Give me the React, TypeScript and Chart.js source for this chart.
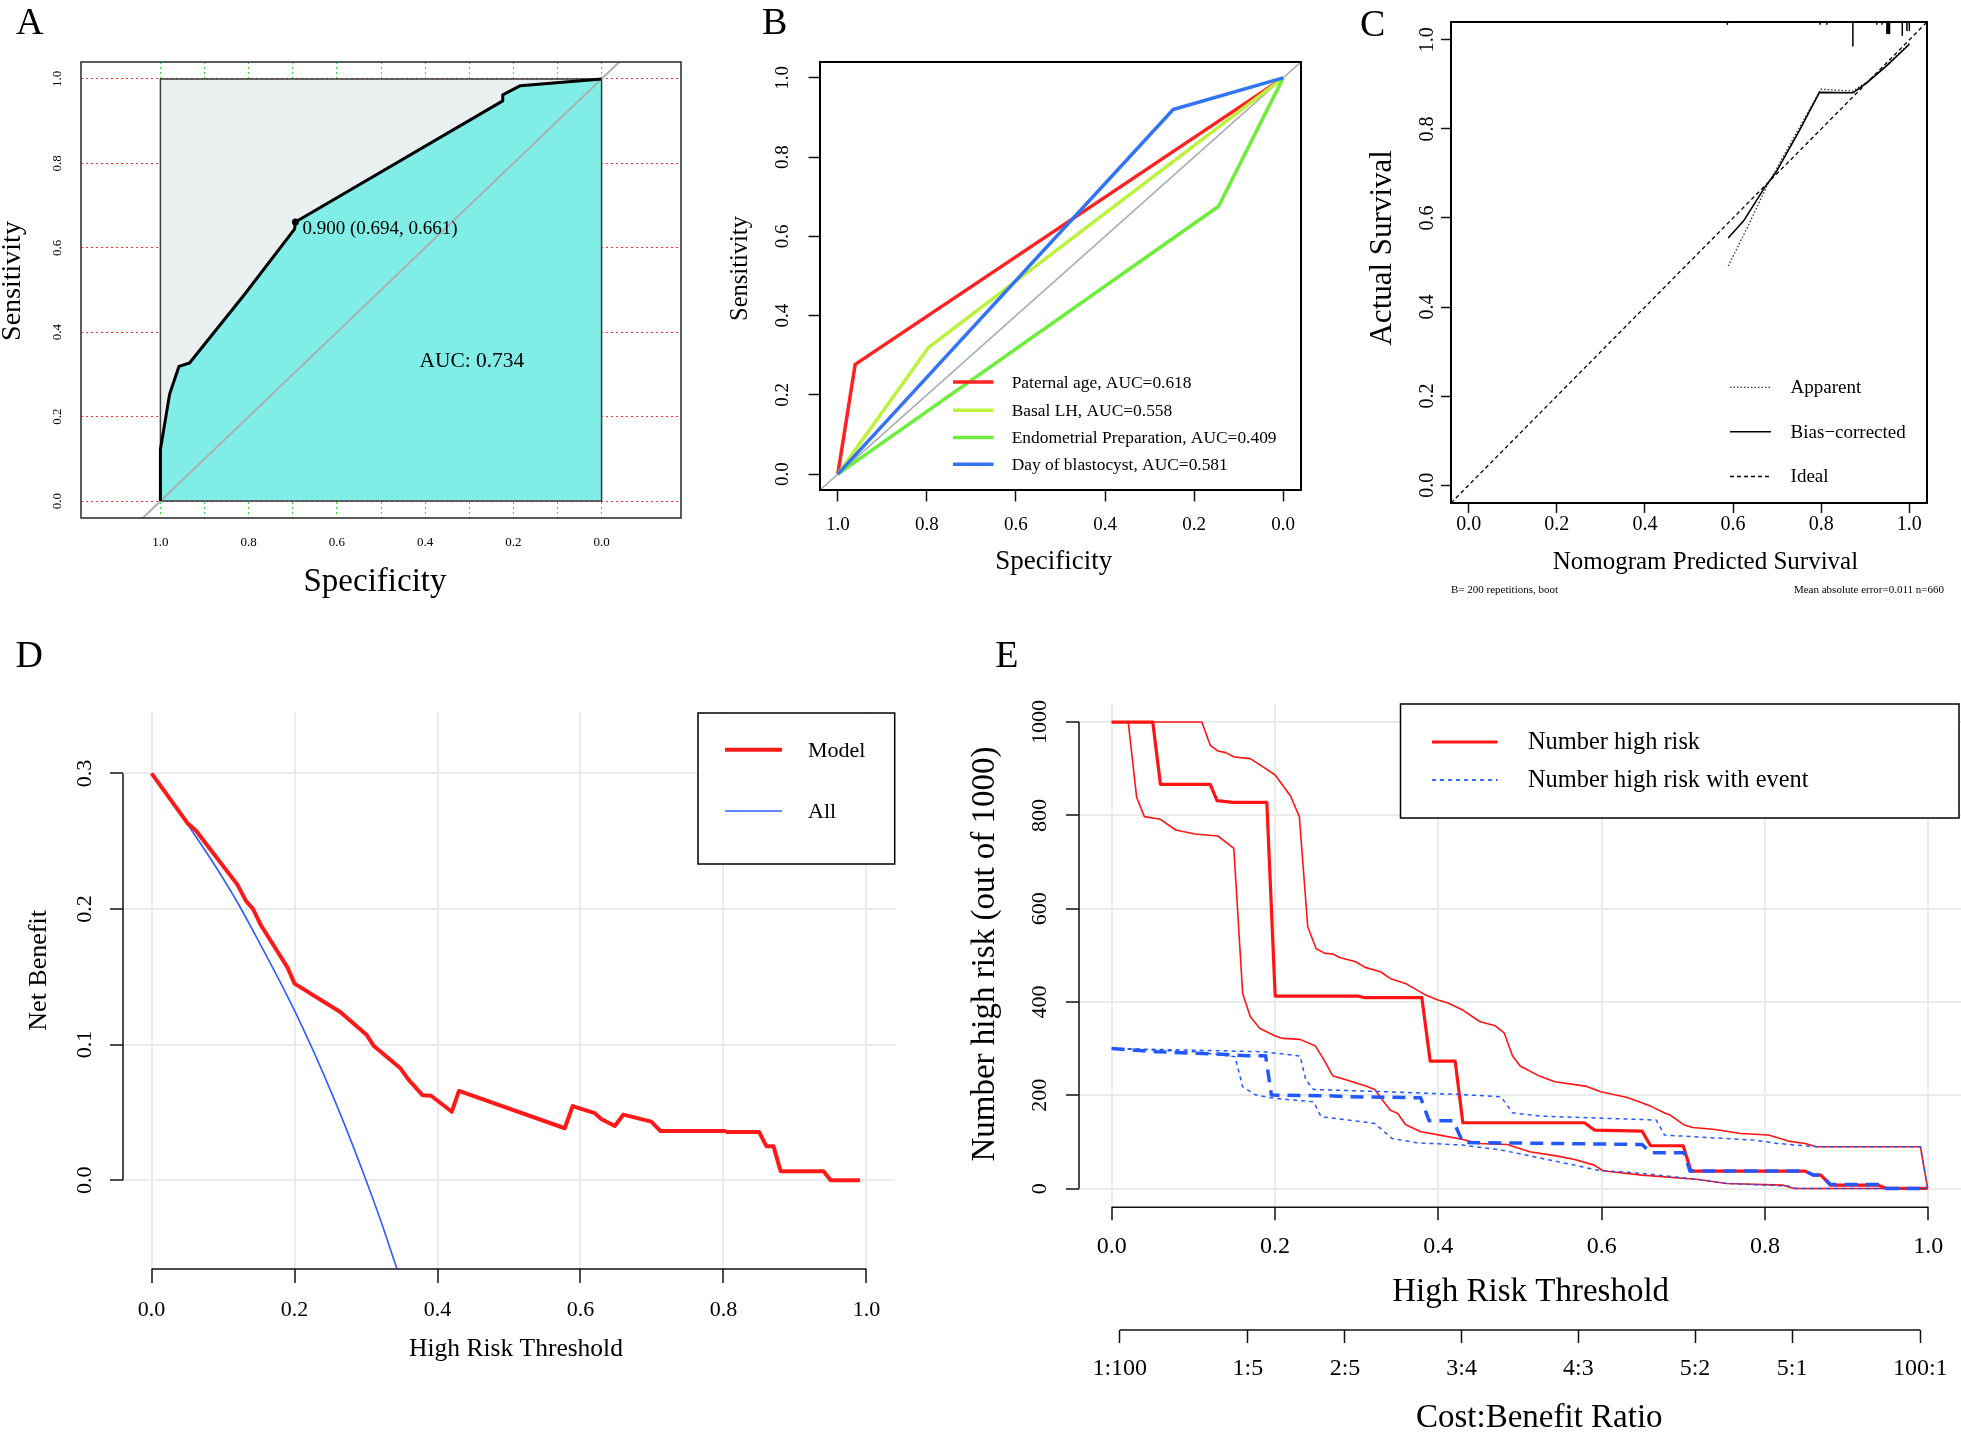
import React, { useEffect, useRef } from "react";
import { Chart, registerables } from "chart.js";

Chart.register(...registerables);

const SERIF = '"Liberation Serif", "Times New Roman", Times, serif';

// ---------------- Panel A : ROC of the nomogram ----------------
const rocASpecificity = [1.0, 1.0, 0.979, 0.958, 0.934, 0.809, 0.696, 0.694, 0.224, 0.224, 0.184, 0.0];
const rocASensitivity = [0.0, 0.122, 0.254, 0.319, 0.327, 0.49, 0.644, 0.661, 0.948, 0.962, 0.984, 1.0];
const rocAThreshold = { spec: 0.694, sens: 0.661, text: "0.900 (0.694, 0.661)" };
const rocAAucText = "AUC: 0.734";
const rocAAucPos = { spec: 0.294, sens: 0.334 };
const rocASquareX = [1, 1, 0, 0, 1];
const rocASquareY = [0, 1, 1, 0, 0];
const rocADiagX = [1.18, -0.18];
const rocADiagY = [-0.18, 1.18];

// ---------------- Panel B : single-variable ROC curves ----------------
const rocBNames = [
  "Paternal age, AUC=0.618",
  "Basal LH, AUC=0.558",
  "Endometrial Preparation, AUC=0.409",
  "Day of blastocyst, AUC=0.581",
];
const rocBColors = ["#FF2222", "#BDF23C", "#6CEE3A", "#3374F5"];
const paternalSpec = [1, 0.961, 0];
const paternalSens = [0, 0.277, 1];
const basalLHSpec = [1, 0.796, 0];
const basalLHSens = [0, 0.32, 1];
const endometrialSpec = [1, 0.145, 0];
const endometrialSens = [0, 0.676, 1];
const blastocystSpec = [1, 0.247, 0];
const blastocystSens = [0, 0.92, 1];
const rocBDiagX = [1.04, -0.04];
const rocBDiagY = [-0.04, 1.04];

// ---------------- Panel C : calibration ----------------
const calBiasX = [0.589, 0.625, 0.674, 0.697, 0.751, 0.796, 0.872, 0.904, 0.949, 1.0];
const calBiasY = [0.555, 0.595, 0.672, 0.702, 0.797, 0.882, 0.881, 0.904, 0.942, 0.99];
const calApparentX = [0.589, 0.634, 0.679, 0.742, 0.799, 0.872, 0.904, 0.949, 1.0];
const calApparentY = [0.492, 0.582, 0.676, 0.788, 0.889, 0.885, 0.906, 0.944, 0.992];
const calIdealX = [-0.04, 1.04];
const calIdealY = [-0.04, 1.04];
const calRugX = [0.587, 0.7975, 0.8127, 0.8718, 0.926, 0.9377, 0.949, 0.952, 0.955, 0.9839, 0.9945, 1.0];
const calRugEnd = [1.035, 1.035, 1.035, 0.986, 1.035, 1.035, 1.014, 1.014, 1.014, 1.01, 1.021, 1.021];
const calLegend = ["Apparent", "Bias\u2212corrected", "Ideal"];
const calFootLeft = "B= 200 repetitions, boot";
const calFootRight = "Mean absolute error=0.011 n=660";

// ---------------- Panel D : decision curve ----------------
const dcaModelX = [0, 0.05, 0.0625, 0.12, 0.132, 0.142, 0.153, 0.19, 0.2, 0.264, 0.301, 0.311, 0.348, 0.36, 0.379,
  0.391, 0.42, 0.43, 0.578, 0.589, 0.62, 0.629, 0.648, 0.66, 0.699, 0.712, 0.802, 0.806, 0.85, 0.86, 0.87, 0.88,
  0.94, 0.95, 0.991];
const dcaModelY = [0.3, 0.2635, 0.2576, 0.218, 0.206, 0.2, 0.188, 0.157, 0.145, 0.124, 0.107, 0.0989, 0.0825, 0.0738,
  0.0627, 0.0623, 0.0505, 0.0658, 0.0383, 0.0546, 0.0494, 0.0452, 0.04, 0.0484, 0.0432, 0.0362, 0.0362, 0.0355,
  0.0355, 0.0251, 0.0251, 0.0066, 0.0066, 0, 0];
const dcaAllX = [0, 0.03, 0.06, 0.09, 0.12, 0.15, 0.18, 0.21, 0.24, 0.27, 0.3, 0.32, 0.343];
const dcaAllY = [0.3, 0.278, 0.255, 0.231, 0.205, 0.176, 0.146, 0.114, 0.079, 0.041, 0.0, -0.029, -0.065];
const dcaLegend = ["Model", "All"];

// ---------------- Panel E : clinical impact curve ----------------
const cicRedMainX = [0, 0.0503, 0.0597, 0.1207, 0.129, 0.1487, 0.19, 0.2002, 0.301, 0.3104, 0.3798, 0.39, 0.4206,
  0.43, 0.579, 0.591, 0.6495, 0.6599, 0.6998, 0.7094, 0.8492, 0.8595, 0.8685, 0.8801, 0.9387, 0.949, 0.9992];
const cicRedMainY = [1000, 1000, 866.6, 866.6, 831.6, 828, 828, 412.8, 412.8, 409.2, 409.2, 273.4, 273.4, 141.2,
  141.2, 125.5, 123.3, 91.9, 91.9, 37.6, 37.6, 29, 29, 7.5, 7.5, 0.4, 0.4];
const cicRedUpX = [0, 0.1104, 0.1207, 0.1301, 0.1395, 0.1501, 0.1698, 0.1862, 0.2002, 0.219, 0.2298, 0.2401, 0.2504,
  0.2612, 0.2706, 0.28, 0.2988, 0.3104, 0.3292, 0.341, 0.3597, 0.3831, 0.3995, 0.4112, 0.43, 0.4511, 0.4698, 0.4806,
  0.4909, 0.5003, 0.5238, 0.5425, 0.58, 0.5988, 0.6316, 0.6597, 0.6785, 0.684, 0.7012, 0.7115, 0.739, 0.77, 0.8044,
  0.8285, 0.8492, 0.8629, 0.9903, 0.9992];
const cicRedUpY = [1000, 1000, 950.2, 938, 934.5, 925.2, 921.6, 903, 886.6, 841.6, 797.3, 561.4, 514.2, 504.2, 502.8,
  495, 486.4, 474.2, 464.9, 450.6, 439.9, 416.3, 404.2, 398.5, 382.7, 357.7, 349.1, 334.1, 284.1, 262.7, 241.2,
  229.1, 219.8, 207.6, 195.5, 176.9, 161.2, 157.6, 136.2, 131.2, 126.9, 118.3, 114.8, 101.9, 96.9, 89.7, 89.7, 0.4];
const cicRedLowX = [0, 0.0203, 0.0306, 0.04, 0.0597, 0.0785, 0.1018, 0.1301, 0.1496, 0.1604, 0.1698, 0.1815, 0.2002,
  0.2097, 0.2307, 0.2495, 0.2589, 0.2706, 0.2917, 0.3104, 0.3221, 0.3315, 0.341, 0.3503, 0.3597, 0.3785, 0.402,
  0.43, 0.4487, 0.4844, 0.5119, 0.5463, 0.567, 0.5911, 0.6014, 0.6495, 0.7184, 0.7528, 0.8217, 0.8354, 0.9992];
const cicRedLowY = [1000, 1000, 838.7, 797.3, 791.6, 768.7, 760.1, 755.8, 729.4, 418.5, 368.5, 343.4, 327, 322,
  319.9, 305.6, 279.1, 242, 230.5, 220.5, 212.6, 189.8, 168.3, 161.2, 137.6, 121.9, 114.7, 105.5, 96.9, 94.7, 79,
  69.7, 62.6, 50.4, 38.3, 29, 19.7, 11.1, 7.5, 0.4, 0.4];
const cicBlueMainX = [0, 0.055, 0.13, 0.1675, 0.1885, 0.1956, 0.266, 0.2894, 0.3784, 0.3887, 0.4183, 0.43, 0.6495,
  0.6599, 0.7012, 0.708, 0.8492, 0.8595, 0.8685, 0.8801, 0.9387, 0.949, 0.9992];
const cicBlueMainY = [300.5, 293.4, 288.4, 284.8, 284.8, 200.5, 199.1, 196.9, 194.8, 145.5, 145.5, 99, 94.7, 76.9,
  76.9, 37.6, 37.6, 29, 29, 9, 9, 0.4, 0.4];
const cicBlueUpX = [0, 0.055, 0.1863, 0.2307, 0.2378, 0.2472, 0.3362, 0.4253, 0.4768, 0.4909, 0.5238, 0.6668, 0.677,
  0.7872, 0.8147, 0.8629, 0.9903, 0.9992];
const cicBlueUpY = [300.5, 298.4, 293.4, 284.1, 232.7, 212.6, 207.6, 201.9, 196.9, 162.6, 155.5, 147, 114.7, 104,
  96.9, 89.7, 89.7, 0.4];
const cicBlueLowX = [0, 0.1018, 0.1511, 0.1604, 0.1768, 0.2002, 0.2472, 0.2565, 0.2894, 0.3221, 0.3432, 0.3737,
  0.43, 0.4768, 0.4981, 0.5325, 0.567, 0.5945, 0.6495, 0.7184, 0.7528, 0.8285, 0.8389, 0.9992];
const cicBlueLowY = [300.5, 293.4, 282.7, 218.4, 200.5, 193.4, 186.2, 154, 146.9, 139.8, 107.6, 98.3, 93.3, 82.6,
  75.4, 62.6, 50.4, 39.7, 32.6, 19.7, 11.1, 5.4, 0.4, 0.4];
const cicLegend = ["Number high risk", "Number high risk with event"];
const cicYTicks = [0, 200, 400, 600, 800, 1000];
const costBenefitLabels = ["1:100", "1:5", "2:5", "3:4", "4:3", "5:2", "5:1", "100:1"];
const costBenefitThresholds = [0.0099, 0.1667, 0.2857, 0.4286, 0.5714, 0.7143, 0.8333, 0.9901];

// shared tick values
const unitTicks = [0, 0.2, 0.4, 0.6, 0.8, 1.0];
const tenthTicks = [0, 0.1, 0.2, 0.3, 0.4, 0.5, 0.6, 0.7, 0.8, 0.9, 1.0];
const dcaYTicks = [0, 0.1, 0.2, 0.3];

// ---------------- helpers ----------------
type Rect = { x: number; y: number; w: number; h: number };
type Area = { l: number; t: number; r: number; b: number };

const pts = (xs: number[], ys: number[]) => xs.map((x, i) => ({ x, y: ys[i] }));

// axis boxes take the whole margin below / left of the plot region, so labels are never clipped
function padFor(R: Rect, A: Area, xSize: number, ySize: number) {
  return {
    left: A.l - R.x - ySize,
    top: A.t - R.y,
    right: R.x + R.w - A.r,
    bottom: R.y + R.h - A.b - xSize,
  };
}

function baseOptions(padding: any) {
  return {
    responsive: false,
    maintainAspectRatio: false,
    animation: false,
    devicePixelRatio: 1,
    events: [],
    layout: { padding },
    plugins: { legend: { display: false }, tooltip: { enabled: false }, title: { display: false } },
  };
}

type AxisSpec = {
  pos: "bottom" | "left";
  min: number;
  max: number;
  reverse?: boolean;
  ticks: number[];
  label: (v: number, i: number) => string;
  font: number;
  pad: number;
  rotate?: boolean;
  onArea?: boolean;
  gridColor?: string;
  gridWidth?: number;
  gridDash?: number[];
  tickLen?: number;
  size: number;
  weight?: number;
};

function makeScale(a: AxisSpec) {
  const tl = a.tickLen ?? 0;
  return {
    type: "linear",
    position: a.pos,
    min: a.min,
    max: a.max,
    reverse: !!a.reverse,
    bounds: "data",
    weight: a.weight ?? 0,
    afterBuildTicks: (s: any) => {
      s.ticks = a.ticks.map((v) => ({ value: v }));
    },
    afterFit: (s: any) => {
      if (a.pos === "bottom") s.height = a.size;
      else s.width = a.size;
      s.paddingLeft = 0;
      s.paddingRight = 0;
      s.paddingTop = 0;
      s.paddingBottom = 0;
    },
    ticks: {
      autoSkip: false,
      padding: a.pad,
      color: "#000",
      font: { family: SERIF, size: a.font },
      minRotation: a.rotate ? 90 : 0,
      maxRotation: a.rotate ? 90 : 0,
      crossAlign: a.rotate ? "center" : "near",
      callback: (v: any, i: number) => a.label(Number(v), i),
    },
    grid: {
      display: true,
      drawOnChartArea: !!a.onArea,
      color: a.gridColor ?? "rgba(0,0,0,0)",
      lineWidth: a.gridWidth ?? 1,
      drawTicks: tl > 0,
      tickLength: tl,
      tickColor: "#111",
      tickWidth: 1.5,
      tickBorderDash: [],
    },
    border: { display: false, dash: a.gridDash ?? [] },
  };
}

function lineDs(data: any[], color: string, width: number, extra: any = {}) {
  return {
    data,
    borderColor: color,
    backgroundColor: color,
    borderWidth: width,
    pointRadius: 0,
    fill: false,
    tension: 0,
    borderJoinStyle: "round",
    borderCapStyle: "butt",
    ...extra,
  };
}

function T(
  ctx: CanvasRenderingContext2D,
  s: string,
  x: number,
  y: number,
  size: number,
  align: CanvasTextAlign = "center",
  rot = 0
) {
  ctx.save();
  ctx.translate(x, y);
  if (rot) ctx.rotate(rot);
  ctx.font = `${size}px ${SERIF}`;
  ctx.fillStyle = "#000";
  ctx.textAlign = align;
  ctx.textBaseline = "middle";
  ctx.fillText(s, 0, 0);
  ctx.restore();
}

function L(
  ctx: CanvasRenderingContext2D,
  x1: number,
  y1: number,
  x2: number,
  y2: number,
  color: string,
  w: number,
  dash: number[] = []
) {
  ctx.save();
  ctx.beginPath();
  ctx.setLineDash(dash);
  ctx.strokeStyle = color;
  ctx.lineWidth = w;
  ctx.moveTo(x1, y1);
  ctx.lineTo(x2, y2);
  ctx.stroke();
  ctx.restore();
}

function box(ctx: CanvasRenderingContext2D, l: number, t: number, r: number, b: number, w: number, color = "#000", fill?: string) {
  ctx.save();
  if (fill) {
    ctx.fillStyle = fill;
    ctx.fillRect(l, t, r - l, b - t);
  }
  ctx.strokeStyle = color;
  ctx.lineWidth = w;
  ctx.strokeRect(l, t, r - l, b - t);
  ctx.restore();
}

type MapFns = {
  x: (v: number, id?: string) => number;
  y: (v: number) => number;
  area: Area;
  top: (id: string) => number;
};

function decor(R: Rect, draw: (ctx: CanvasRenderingContext2D, m: MapFns) => void) {
  return {
    id: "decor",
    afterDraw(chart: any) {
      const ctx: CanvasRenderingContext2D = chart.ctx;
      const ca = chart.chartArea;
      const m: MapFns = {
        x: (v: number, id = "x") => chart.scales[id].getPixelForValue(v) + R.x,
        y: (v: number) => chart.scales.y.getPixelForValue(v) + R.y,
        area: { l: ca.left + R.x, t: ca.top + R.y, r: ca.right + R.x, b: ca.bottom + R.y },
        top: (id: string) => chart.scales[id].top + R.y,
      };
      ctx.save();
      ctx.translate(-R.x, -R.y);
      draw(ctx, m);
      ctx.restore();
    },
  };
}

const HALF_PI = Math.PI / 2;

// ---------------- Panel configs ----------------
const RA: Rect = { x: 0, y: 0, w: 700, h: 620 };
const AA: Area = { l: 81, t: 62, r: 681, b: 518 };
const A_X = 102;
const A_Y = 81;

function configA() {
  const roc = pts(rocASpecificity, rocASensitivity);
  return {
    type: "line",
    data: {
      datasets: [
        {
          ...lineDs([{ x: rocAThreshold.spec, y: rocAThreshold.sens }], "#000", 1),
          showLine: false,
          pointRadius: 3.5,
          pointBackgroundColor: "#000",
          pointBorderWidth: 0,
          order: 0,
        },
        { ...lineDs(roc, "#000", 3), order: 1 },
        { ...lineDs(pts(rocADiagX, rocADiagY), "#A9B0B3", 2), order: 2 },
        { ...lineDs(pts(rocASquareX, rocASquareY), "#3A3A3A", 1.5), order: 2 },
        { ...lineDs(roc, "rgba(0,0,0,0)", 1), fill: "origin", backgroundColor: "#80EDE7", order: 3 },
        {
          ...lineDs(pts([1, 0], [1, 1]), "rgba(0,0,0,0)", 1),
          fill: "origin",
          backgroundColor: "#E9F0EF",
          order: 4,
        },
      ],
    },
    options: {
      ...baseOptions(padFor(RA, AA, A_X, A_Y)),
      scales: {
        x: makeScale({
          pos: "bottom", min: -0.18, max: 1.18, reverse: true, ticks: tenthTicks,
          label: (v) => (Math.round(v * 10) % 2 === 0 ? v.toFixed(1) : ""),
          font: 13, pad: 17, onArea: true, gridColor: "#3BD83B", gridDash: [2, 3], gridWidth: 1, size: A_X,
        }),
        y: makeScale({
          pos: "left", min: -0.04, max: 1.04, ticks: unitTicks, label: (v) => v.toFixed(1),
          font: 13, pad: 15, rotate: true, onArea: true, gridColor: "#FF3030", gridDash: [2, 3], gridWidth: 1,
          size: A_Y,
        }),
      },
    },
    plugins: [
      decor(RA, (ctx, m) => {
        const a = m.area;
        box(ctx, a.l, a.t, a.r, a.b, 1.6, "#333");
        T(ctx, "A", 29.6, 24.5, 38);
        T(ctx, "Sensitivity", 12.4, 281, 28, "center", -HALF_PI);
        T(ctx, "Specificity", 375, 582.5, 33);
        const px = m.x(rocAThreshold.spec);
        const py = m.y(rocAThreshold.sens);
        T(ctx, rocAThreshold.text, px + 7, py + 7, 19, "left");
        T(ctx, rocAAucText, m.x(rocAAucPos.spec), m.y(rocAAucPos.sens) + 1, 21.4);
      }),
    ],
  };
}

const RB: Rect = { x: 700, y: 0, w: 640, h: 620 };
const AB: Area = { l: 820, t: 62, r: 1301, b: 490 };
const B_X = 130;
const B_Y = 120;

function configB() {
  const series = [
    pts(paternalSpec, paternalSens),
    pts(basalLHSpec, basalLHSens),
    pts(endometrialSpec, endometrialSens),
    pts(blastocystSpec, blastocystSens),
  ];
  return {
    type: "line",
    data: {
      datasets: [
        ...series.map((d, i) => ({ ...lineDs(d, rocBColors[i], 3.5), order: 3 - i })),
        { ...lineDs(pts(rocBDiagX, rocBDiagY), "#A3ABB0", 1.6), order: 5 },
      ],
    },
    options: {
      ...baseOptions(padFor(RB, AB, B_X, B_Y)),
      scales: {
        x: makeScale({
          pos: "bottom", min: -0.04, max: 1.04, reverse: true, ticks: unitTicks,
          label: (v) => v.toFixed(1), font: 19, pad: 12, tickLen: 11.5, size: B_X,
        }),
        y: makeScale({
          pos: "left", min: -0.04, max: 1.04, ticks: unitTicks, label: (v) => v.toFixed(1),
          font: 19, pad: 13.6, rotate: true, tickLen: 11.5, size: B_Y,
        }),
      },
    },
    plugins: [
      decor(RB, (ctx, m) => {
        const a = m.area;
        box(ctx, a.l, a.t, a.r, a.b, 2, "#000");
        T(ctx, "B", 774.6, 24.5, 38);
        T(ctx, "Sensitivity", 741, 268.5, 24.5, "center", -HALF_PI);
        T(ctx, "Specificity", 1053.7, 562, 27);
        const rows = [382, 410.3, 437.4, 464.2];
        rows.forEach((y, i) => {
          L(ctx, 953, y, 993.5, y, rocBColors[i], 3.5);
          T(ctx, rocBNames[i], 1011.7, y + 1, 17.4, "left");
        });
      }),
    ],
  };
}

const RC: Rect = { x: 1340, y: 0, w: 621, h: 620 };
const AC: Area = { l: 1451, t: 22, r: 1927, b: 503 };
const C_X = 117;
const C_Y = 111;

function configC() {
  const rug: any[] = [];
  calRugX.forEach((x, i) => {
    rug.push({ x, y: 1.04 }, { x, y: calRugEnd[i] }, { x, y: null });
  });
  return {
    type: "line",
    data: {
      datasets: [
        { ...lineDs(pts(calBiasX, calBiasY), "#000", 1.6), order: 0 },
        { ...lineDs(pts(calApparentX, calApparentY), "#333", 1.3, { borderDash: [1.5, 2] }), order: 1 },
        { ...lineDs(pts(calIdealX, calIdealY), "#000", 1.3, { borderDash: [4, 3] }), order: 2 },
        { ...lineDs(rug, "#000", 1.5, { spanGaps: false }), order: 3 },
      ],
    },
    options: {
      ...baseOptions(padFor(RC, AC, C_X, C_Y)),
      scales: {
        x: makeScale({
          pos: "bottom", min: -0.04, max: 1.04, ticks: unitTicks, label: (v) => v.toFixed(1),
          font: 20, pad: 0, tickLen: 10, size: C_X,
        }),
        y: makeScale({
          pos: "left", min: -0.04, max: 1.04, ticks: unitTicks, label: (v) => v.toFixed(1),
          font: 20, pad: 0.6, rotate: true, tickLen: 10, size: C_Y,
        }),
      },
    },
    plugins: [
      decor(RC, (ctx, m) => {
        const a = m.area;
        box(ctx, a.l, a.t, a.r, a.b, 2, "#000");
        T(ctx, "C", 1372.6, 26, 38);
        T(ctx, "Actual Survival", 1383.3, 247.8, 31, "center", -HALF_PI);
        T(ctx, "Nomogram Predicted Survival", 1705.4, 562.8, 25);
        const rows = [387.3, 431.7, 476.5];
        L(ctx, 1730, rows[0], 1771, rows[0], "#333", 1.3, [1.5, 2]);
        L(ctx, 1730, rows[1], 1771, rows[1], "#000", 1.6);
        L(ctx, 1730, rows[2], 1771, rows[2], "#000", 1.3, [4, 3]);
        rows.forEach((y, i) => T(ctx, calLegend[i], 1790.6, y + 1, 19, "left"));
        T(ctx, calFootLeft, 1451, 590, 11, "left");
        T(ctx, calFootRight, 1944, 590, 11, "right");
      }),
    ],
  };
}

const RD: Rect = { x: 0, y: 630, w: 960, h: 807 };
const AD: Area = { l: 123, t: 712, r: 895, b: 1269 };
const D_X = 168;
const D_Y = 123;

function configD() {
  return {
    type: "line",
    data: {
      datasets: [
        { ...lineDs(pts(dcaModelX, dcaModelY), "#FF1A1A", 4), order: 0 },
        { ...lineDs(pts(dcaAllX, dcaAllY), "#2E5BFF", 1.6, { cubicInterpolationMode: "monotone" }), order: 1 },
      ],
    },
    options: {
      ...baseOptions(padFor(RD, AD, D_X, D_Y)),
      scales: {
        x: makeScale({
          pos: "bottom", min: -0.04, max: 1.04, ticks: unitTicks, label: (v) => v.toFixed(1),
          font: 22, pad: 13.7, tickLen: 14, onArea: true, gridColor: "#E9ECEC", gridWidth: 2, size: D_X,
        }),
        y: makeScale({
          pos: "left", min: -0.0655, max: 0.3453, ticks: dcaYTicks, label: (v) => v.toFixed(1),
          font: 22, pad: 11.25, rotate: true, tickLen: 13, onArea: true, gridColor: "#E9ECEC", gridWidth: 2,
          size: D_Y,
        }),
      },
    },
    plugins: [
      decor(RD, (ctx, m) => {
        const a = m.area;
        L(ctx, a.l, m.y(0), a.l, m.y(0.3), "#111", 1.5);
        L(ctx, m.x(0), a.b, m.x(1), a.b, "#111", 1.5);
        box(ctx, 698, 713, 894.7, 864, 1.5, "#000", "#fff");
        L(ctx, 725, 749.8, 782, 749.8, "#FF1A1A", 4);
        L(ctx, 725, 811, 782, 811, "#2E5BFF", 1.6);
        T(ctx, dcaLegend[0], 808, 751, 22, "left");
        T(ctx, dcaLegend[1], 808, 812, 22, "left");
        T(ctx, "D", 29.3, 657, 38);
        T(ctx, "Net Benefit", 39, 970.4, 26, "center", -HALF_PI);
        T(ctx, "High Risk Threshold", 516, 1348.8, 25.5);
      }),
    ],
  };
}

const RE: Rect = { x: 960, y: 630, w: 1001, h: 807 };
const AE: Area = { l: 1079, t: 703.4, r: 1961, b: 1207.3 };
const E_X = 122.7;
const E_X2 = 107;
const E_Y = 119;

function configE() {
  return {
    type: "line",
    data: {
      datasets: [
        { ...lineDs(pts(cicBlueMainX, cicBlueMainY), "#2458FF", 3.5, { borderDash: [13, 8] }), order: 0 },
        { ...lineDs(pts(cicBlueUpX, cicBlueUpY), "#2458FF", 1.5, { borderDash: [4, 4] }), order: 1 },
        { ...lineDs(pts(cicBlueLowX, cicBlueLowY), "#2458FF", 1.5, { borderDash: [4, 4] }), order: 1 },
        { ...lineDs(pts(cicRedMainX, cicRedMainY), "#FF1414", 3.2), order: 2 },
        { ...lineDs(pts(cicRedUpX, cicRedUpY), "#FF1414", 1.6), order: 3 },
        { ...lineDs(pts(cicRedLowX, cicRedLowY), "#FF1414", 1.6), order: 3 },
      ],
    },
    options: {
      ...baseOptions(padFor(RE, AE, E_X + E_X2, E_Y)),
      scales: {
        x: makeScale({
          pos: "bottom", min: -0.04, max: 1.04, ticks: unitTicks, label: (v) => v.toFixed(1),
          font: 24, pad: 12, tickLen: 13, onArea: true, gridColor: "#E9ECEC", gridWidth: 2,
          size: E_X, weight: 0,
        }),
        x2: makeScale({
          pos: "bottom", min: -0.04, max: 1.04, ticks: costBenefitThresholds,
          label: (_v, i) => costBenefitLabels[i] ?? "", font: 24, pad: 11.6, tickLen: 13, size: E_X2, weight: 1,
        }),
        y: makeScale({
          pos: "left", min: -40, max: 1040, ticks: cicYTicks, label: (v) => String(Math.round(v)),
          font: 22, pad: 4.2, rotate: true, tickLen: 13, onArea: true, gridColor: "#E9ECEC", gridWidth: 2,
          size: E_Y,
        }),
      },
    },
    plugins: [
      decor(RE, (ctx, m) => {
        const a = m.area;
        L(ctx, a.l, m.y(0), a.l, m.y(1000), "#111", 1.5);
        L(ctx, m.x(0), a.b, m.x(1), a.b, "#111", 1.5);
        const t2 = m.top("x2");
        L(
          ctx,
          m.x(costBenefitThresholds[0], "x2"),
          t2,
          m.x(costBenefitThresholds[costBenefitThresholds.length - 1], "x2"),
          t2,
          "#111",
          1.5
        );
        box(ctx, 1400.5, 704, 1959, 818, 1.5, "#000", "#fff");
        L(ctx, 1432, 742, 1497.5, 742, "#FF1414", 3.2);
        L(ctx, 1432, 780, 1497.5, 780, "#2458FF", 1.8, [4, 4]);
        T(ctx, cicLegend[0], 1528, 743, 24.4, "left");
        T(ctx, cicLegend[1], 1528, 781, 24.4, "left");
        T(ctx, "E", 1006.9, 657, 38);
        T(ctx, "Number high risk (out of 1000)", 985, 954, 33, "center", -HALF_PI);
        T(ctx, "High Risk Threshold", 1530.7, 1292, 33);
        T(ctx, "Cost:Benefit Ratio", 1539.3, 1418, 33);
      }),
    ],
  };
}

// ---------------- components ----------------
function ChartPanel({ rect, build }: { rect: Rect; build: () => any }) {
  const ref = useRef<HTMLCanvasElement | null>(null);
  useEffect(() => {
    if (!ref.current) return;
    const chart = new Chart(ref.current, build());
    return () => chart.destroy();
  }, []);
  return (
    <canvas
      ref={ref}
      width={rect.w}
      height={rect.h}
      style={{ position: "absolute", left: rect.x, top: rect.y, width: rect.w, height: rect.h }}
    />
  );
}

export default function App() {
  return (
    <div
      style={{
        position: "absolute",
        left: 0,
        top: 0,
        width: 1961,
        height: 1437,
        background: "#ffffff",
        overflow: "hidden",
      }}
    >
      <ChartPanel rect={RA} build={configA} />
      <ChartPanel rect={RB} build={configB} />
      <ChartPanel rect={RC} build={configC} />
      <ChartPanel rect={RD} build={configD} />
      <ChartPanel rect={RE} build={configE} />
    </div>
  );
}
